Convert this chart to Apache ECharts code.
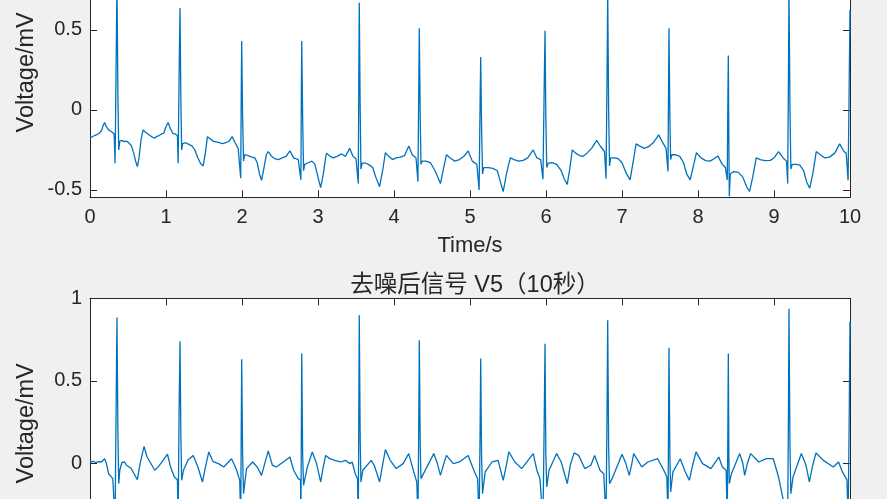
<!DOCTYPE html>
<html>
<head>
<meta charset="utf-8">
<script src="https://cdn.jsdelivr.net/npm/echarts@6/dist/echarts.min.js"></script>
<style>
html,body{margin:0;padding:0;background:#f0f0f0;overflow:hidden;width:887px;height:499px;}
#chart{position:absolute;left:0;top:-100px;width:887px;height:800px;}
</style>
</head>
<body>
<div id="chart"></div>
<script>
// ---- data ----
const titleBottom = '去噪后信号 V5（10秒）';
const xName = 'Time/s';
const yName = 'Voltage/mV';
const xTicks = [0,1,2,3,4,5,6,7,8,9,10];
const yTicks = [-0.5,0,0.5,1];

// top panel: raw (noisy) signal, time in s
const timeRaw = [
0.000,0.030,0.060,0.090,0.120,0.150,0.175,0.193,0.215,0.245,0.280,0.300,0.318,0.330,0.342,0.355,0.367,0.378,0.392,0.420,0.450,0.480,0.510,0.545,0.575,0.600,0.623,0.645,0.670,0.698,0.730,0.760,0.790,0.820,0.852,0.880,0.910,0.940,0.970,0.995,
1.028,1.055,1.090,1.120,1.150,1.160,1.172,1.184,1.196,1.206,1.220,1.260,1.300,1.340,1.380,1.420,1.455,1.489,1.515,1.545,1.580,1.620,1.660,1.700,1.740,1.790,1.830,1.871,1.910,1.950,1.970,1.983,1.990,1.996,
2.008,2.020,2.035,2.080,2.130,2.170,2.200,2.230,2.257,2.290,2.320,2.345,2.390,2.430,2.480,2.530,2.580,2.630,2.680,2.740,2.765,2.775,2.781,2.786,2.798,2.810,2.825,2.870,2.920,2.960,
3.000,3.035,3.070,3.100,3.113,3.160,3.200,3.250,3.310,3.360,3.417,3.460,3.500,3.530,3.537,3.543,3.555,3.565,3.580,3.630,3.680,3.720,3.760,3.810,3.850,3.887,3.930,3.980,
4.030,4.080,4.140,4.194,4.240,4.290,4.315,4.325,4.333,4.345,4.355,4.370,4.420,4.480,4.540,4.611,4.650,4.690,4.740,4.800,4.860,4.920,4.976,
5.030,5.090,5.120,5.133,5.141,5.152,5.165,5.180,5.240,5.300,5.360,5.400,5.437,5.480,5.530,5.580,5.640,5.700,5.760,5.832,5.880,5.930,5.960,5.975,5.987,5.998,
6.010,6.030,6.080,6.140,6.200,6.240,6.280,6.315,6.346,6.390,6.440,6.490,6.540,6.600,6.667,6.720,6.770,6.790,6.803,6.812,6.824,6.836,6.850,6.900,6.950,
7.000,7.050,7.106,7.145,7.185,7.230,7.290,7.350,7.420,7.483,7.530,7.580,7.605,7.612,7.618,7.630,7.640,7.655,7.700,7.760,7.810,7.850,7.897,7.940,7.980,
8.040,8.100,8.160,8.210,8.260,8.320,8.360,8.385,8.393,8.399,8.406,8.412,8.425,8.470,8.530,8.590,8.640,8.678,8.720,8.766,8.820,8.880,8.950,
9.000,9.060,9.120,9.165,9.180,9.190,9.197,9.210,9.222,9.240,9.290,9.340,9.390,9.430,9.470,9.510,9.556,9.610,9.670,9.730,9.800,9.864,9.920,9.950,9.975,9.988,10.000
];
const voltRaw = [
-0.177,-0.168,-0.160,-0.155,-0.146,-0.130,-0.095,-0.079,-0.105,-0.125,-0.135,-0.140,-0.150,-0.333,0.200,0.800,0.100,-0.250,-0.195,-0.190,-0.198,-0.195,-0.205,-0.225,-0.270,-0.320,-0.354,-0.300,-0.190,-0.125,-0.140,-0.150,-0.160,-0.170,-0.177,-0.165,-0.160,-0.150,-0.146,-0.110,
-0.079,-0.115,-0.146,-0.150,-0.160,-0.333,0.200,0.636,0.050,-0.250,-0.210,-0.205,-0.215,-0.225,-0.250,-0.300,-0.335,-0.350,-0.280,-0.167,-0.180,-0.195,-0.200,-0.205,-0.210,-0.205,-0.195,-0.167,-0.205,-0.240,-0.245,-0.427,0.100,0.431,
-0.050,-0.320,-0.280,-0.285,-0.295,-0.300,-0.330,-0.400,-0.440,-0.360,-0.280,-0.260,-0.290,-0.305,-0.310,-0.300,-0.290,-0.256,-0.300,-0.310,-0.320,-0.4375,0.100,0.431,-0.050,-0.380,-0.340,-0.330,-0.320,-0.340,
-0.420,-0.485,-0.400,-0.300,-0.270,-0.290,-0.300,-0.290,-0.275,-0.290,-0.240,-0.290,-0.305,-0.460,0.200,0.670,0.000,-0.370,-0.333,-0.333,-0.345,-0.360,-0.420,-0.480,-0.380,-0.267,-0.290,-0.310,
-0.300,-0.295,-0.285,-0.225,-0.280,-0.300,-0.448,0.100,0.510,-0.050,-0.340,-0.320,-0.320,-0.330,-0.380,-0.460,-0.370,-0.280,-0.300,-0.320,-0.310,-0.290,-0.256,
-0.320,-0.340,-0.500,0.050,0.330,-0.100,-0.400,-0.360,-0.360,-0.365,-0.380,-0.450,-0.510,-0.400,-0.300,-0.310,-0.320,-0.315,-0.300,-0.250,-0.300,-0.310,-0.433,0.100,0.494,-0.050,
-0.360,-0.333,-0.330,-0.340,-0.380,-0.430,-0.465,-0.360,-0.250,-0.270,-0.285,-0.290,-0.270,-0.240,-0.190,-0.230,-0.260,-0.430,0.200,0.740,0.000,-0.350,-0.300,-0.300,-0.305,
-0.330,-0.390,-0.4375,-0.330,-0.2125,-0.225,-0.240,-0.230,-0.200,-0.156,-0.200,-0.240,-0.385,0.100,0.510,-0.050,-0.310,-0.280,-0.280,-0.290,-0.330,-0.400,-0.4375,-0.350,-0.267,
-0.300,-0.317,-0.320,-0.305,-0.2875,-0.340,-0.360,-0.4375,0.050,0.340,-0.200,-0.540,-0.400,-0.385,-0.390,-0.420,-0.480,-0.510,-0.420,-0.300,-0.310,-0.317,-0.315,
-0.300,-0.260,-0.300,-0.320,-0.460,0.200,0.760,0.000,-0.370,-0.340,-0.340,-0.345,-0.380,-0.450,-0.490,-0.400,-0.260,-0.280,-0.300,-0.295,-0.270,-0.2125,-0.260,-0.270,-0.440,0.100,0.625
];

// bottom panel: denoised signal
const timeDen = [
0.000,0.040,0.080,0.120,0.150,0.170,0.193,0.215,0.245,0.300,0.330,0.343,0.355,0.367,0.378,0.392,0.420,0.455,0.480,0.540,0.600,0.623,0.660,0.711,0.750,0.790,0.852,0.900,0.950,
1.019,1.060,1.110,1.150,1.160,1.172,1.184,1.196,1.206,1.230,1.290,1.357,1.420,1.480,1.520,1.563,1.620,1.690,1.760,1.862,1.900,1.930,1.970,1.983,1.990,1.996,
2.008,2.020,2.060,2.140,2.200,2.257,2.300,2.345,2.400,2.450,2.520,2.630,2.680,2.740,2.770,2.775,2.781,2.786,2.798,2.810,2.860,2.925,2.980,
3.035,3.070,3.100,3.150,3.220,3.300,3.360,3.420,3.450,3.490,3.520,3.530,3.537,3.543,3.555,3.565,3.590,3.700,3.740,3.811,3.850,3.887,3.950,
4.030,4.120,4.194,4.260,4.300,4.315,4.325,4.333,4.345,4.355,4.400,4.523,4.570,4.611,4.650,4.690,4.780,4.860,4.976,
5.050,5.100,5.120,5.133,5.141,5.152,5.165,5.200,5.290,5.370,5.437,5.480,5.511,5.590,5.680,5.832,5.880,5.920,5.960,5.975,5.987,5.998,
6.010,6.040,6.140,6.200,6.280,6.320,6.370,6.430,6.510,6.590,6.640,6.710,6.760,6.790,6.803,6.812,6.824,6.836,6.870,
7.000,7.050,7.096,7.130,7.154,7.260,7.340,7.470,7.550,7.590,7.605,7.612,7.618,7.630,7.640,7.670,7.767,7.830,7.886,7.930,7.974,
8.060,8.170,8.274,8.320,8.370,8.385,8.393,8.399,8.406,8.412,8.440,8.549,8.590,8.614,8.650,8.693,8.800,8.900,8.990,
9.060,9.100,9.180,9.190,9.197,9.210,9.222,9.250,9.360,9.420,9.465,9.510,9.553,9.650,9.780,9.850,9.900,9.960,9.975,9.988,10.000
];
const voltDen = [
0.008,0.012,0.005,0.010,0.008,0.015,0.028,0.000,-0.063,-0.093,-0.350,0.300,0.883,0.200,-0.123,-0.042,0.005,0.008,-0.012,-0.030,-0.080,-0.099,0.000,0.103,0.040,0.008,-0.042,-0.020,0.010,
0.055,-0.022,-0.083,-0.100,-0.350,0.300,0.739,0.150,-0.103,-0.042,0.020,0.048,-0.022,-0.113,-0.020,0.069,0.010,-0.002,-0.022,0.028,-0.010,-0.042,-0.103,-0.350,0.200,0.630,
0.050,-0.184,-0.032,0.008,-0.022,-0.073,0.000,0.075,-0.012,-0.022,0.000,0.038,-0.042,-0.093,-0.100,-0.350,0.200,0.665,0.050,-0.133,-0.022,0.069,0.000,
-0.113,-0.020,0.048,0.030,0.018,0.008,0.018,-0.002,0.008,-0.063,-0.093,-0.350,0.300,0.897,0.150,-0.113,-0.042,0.018,-0.012,-0.113,-0.010,0.083,0.018,
-0.032,-0.002,0.059,-0.052,-0.113,-0.350,0.200,0.745,0.100,-0.093,-0.052,0.059,0.000,-0.073,-0.010,0.048,-0.002,0.008,0.048,
-0.042,-0.093,-0.350,0.200,0.635,0.050,-0.184,-0.052,0.008,0.018,-0.103,-0.010,0.069,0.008,-0.032,0.059,-0.042,-0.093,-0.350,0.200,0.725,0.050,
-0.143,-0.042,0.059,0.008,-0.123,-0.010,0.063,0.048,-0.032,-0.012,0.048,-0.042,-0.063,-0.350,0.300,0.867,0.100,-0.123,-0.093,
0.055,0.000,-0.073,0.000,0.059,-0.022,0.008,0.028,-0.042,-0.083,-0.350,0.200,0.700,0.050,-0.174,-0.052,0.028,-0.050,-0.103,-0.010,0.069,
-0.002,-0.032,0.038,-0.022,-0.042,-0.350,0.200,0.665,0.050,-0.123,-0.063,0.059,0.000,-0.073,0.000,0.059,0.008,0.028,0.028,
-0.083,-0.174,-0.350,0.300,0.937,0.100,-0.184,-0.083,0.059,-0.010,-0.113,-0.010,0.063,0.018,-0.022,0.008,-0.052,-0.100,-0.350,0.200,0.860
];

// ---- chart ----
const OFF = 100; // chart canvas is shifted up by this many px (page clips it)
const pair = (ts, vs) => ts.map((t, i) => [t, vs[i]]);
const FONT = "'Liberation Sans', Arial, 'Noto Sans CJK SC', sans-serif";
const AX = '#262626';

function xAx(grid, pos, showLabel, withName) {
  return {
    type: 'value', gridIndex: grid, position: pos, min: 0, max: 10, interval: 1,
    axisLine: { show: true, onZero: false, lineStyle: { color: AX, width: 1 } },
    axisTick: { show: true, inside: true, length: 7, customValues: xTicks, lineStyle: { color: AX } },
    axisLabel: { show: showLabel, customValues: xTicks, color: AX, fontSize: 20, fontFamily: FONT, margin: 10 },
    splitLine: { show: false },
    name: withName ? xName : '', nameLocation: 'middle', nameGap: 38,
    nameTextStyle: { color: AX, fontSize: 22, fontFamily: FONT }
  };
}
function yAx(grid, pos, mn, mx, showLabel) {
  return {
    type: 'value', gridIndex: grid, position: pos, min: mn, max: mx,
    axisLine: { show: true, onZero: false, lineStyle: { color: AX, width: 1 } },
    axisTick: { show: true, inside: true, length: 7, customValues: yTicks, lineStyle: { color: AX } },
    axisLabel: { show: showLabel, customValues: yTicks, color: AX, fontSize: 20, fontFamily: FONT, margin: 8 },
    splitLine: { show: false },
    name: showLabel ? yName : '', nameLocation: 'middle', nameGap: 52, nameMoveOverlap: false,
    nameTextStyle: { color: AX, fontSize: 23.5, fontFamily: FONT }
  };
}

const chart = echarts.init(document.getElementById('chart'), null, { renderer: 'canvas' });
chart.setOption({
  animation: false,
  backgroundColor: '#f0f0f0',
  title: {
    text: titleBottom, left: 470, top: 269 + OFF, textAlign: 'center',
    textStyle: { color: AX, fontSize: 23.5, fontWeight: 'normal', fontFamily: FONT }
  },
  grid: [
    { left: 90, right: 37, top: OFF - 52.7, height: 250, show: true, backgroundColor: '#ffffff', borderWidth: 0, outerBoundsMode: 'none', containLabel: false },
    { left: 90, right: 37, top: OFF + 298.3, height: 250, show: true, backgroundColor: '#ffffff', borderWidth: 0, outerBoundsMode: 'none', containLabel: false }
  ],
  xAxis: [
    xAx(0, 'bottom', true, true),
    xAx(0, 'top', false, false),
    xAx(1, 'bottom', true, true),
    xAx(1, 'top', false, false)
  ],
  yAxis: [
    yAx(0, 'left', -0.546, 1.016, true),
    yAx(0, 'right', -0.546, 1.016, false),
    yAx(1, 'left', -0.515, 1, true),
    yAx(1, 'right', -0.515, 1, false)
  ],
  series: [
    { type: 'line', xAxisIndex: 0, yAxisIndex: 0, data: pair(timeRaw, voltRaw), showSymbol: false,
      lineStyle: { color: '#0072BD', width: 1.3 }, itemStyle: { color: '#0072BD' } },
    { type: 'line', xAxisIndex: 2, yAxisIndex: 2, data: pair(timeDen, voltDen), showSymbol: false,
      lineStyle: { color: '#0072BD', width: 1.3 }, itemStyle: { color: '#0072BD' } }
  ]
});
</script>
</body>
</html>
